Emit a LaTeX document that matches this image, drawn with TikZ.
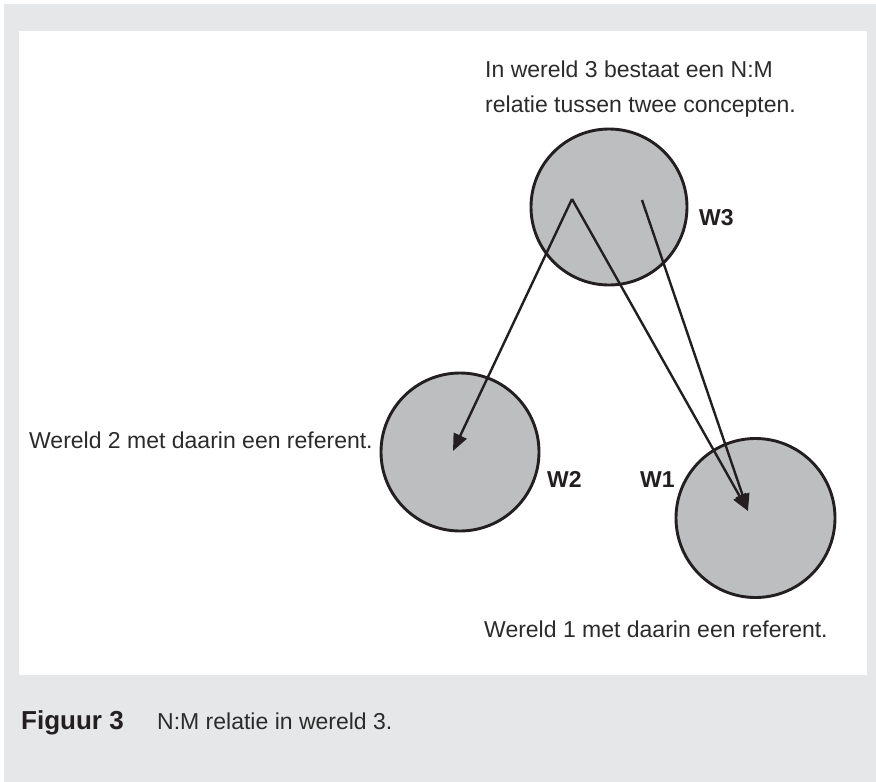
\documentclass[tikz,border=0pt]{standalone}
\usepackage{fontspec}
\setmainfont{Liberation Sans}
\usetikzlibrary{arrows.meta}
\definecolor{pagegray}{HTML}{E6E7E8}
\definecolor{worldfill}{HTML}{BCBEC0}
\definecolor{ink}{HTML}{231F20}
\definecolor{textink}{HTML}{2B2B2B}
\tikzset{
  world/.style={circle, draw=ink, fill=worldfill, line width=2.9pt, minimum size=#1, inner sep=0pt},
  relation/.style={draw=ink, line width=2.4pt, -{Triangle[length=17pt,width=14pt]}},
  plain/.style={anchor=base west, inner sep=0pt, text=textink, font=\fontsize{23}{27}\selectfont},
  tag/.style={anchor=base west, inner sep=0pt, text=ink, font=\fontsize{23}{27}\selectfont\bfseries},
  figtag/.style={anchor=base west, inner sep=0pt, text=ink, font=\fontsize{26}{30}\selectfont\bfseries},
}
\begin{document}
\begin{tikzpicture}[x=1pt, y=-1pt]
\useasboundingbox (0,0) rectangle (876,782);
% page and figure panel
\fill[pagegray] (4,4) rectangle (876,782);
\fill[white] (19,31) rectangle (867,675);

% worlds
\node[world=156pt] (w3) at (609,207) {};
\node[world=158pt] (w2) at (460,452) {};
\node[world=159pt] (w1) at (755.5,518) {};

% concepts in world 3 and referents in worlds 1 and 2
\coordinate (c1) at (572,199);
\coordinate (c2) at (642,200);
\coordinate (r2) at (453,451);
\coordinate (r1) at (748,511);

\draw[relation] (c1) -- (r2);
\draw[relation] (c1) -- (r1);
\draw[relation] (c2) -- (r1);

% labels
\node[plain] (t3a) at (485,77) {In wereld 3 bestaat een N:M};
\node[plain] (t3b) at (485,112) {relatie tussen twee concepten.};
\node[plain] (t2) at (29,448) {Wereld 2 met daarin een referent.};
\node[plain] (t1) at (484,637) {Wereld 1 met daarin een referent.};
\node[tag] (l3) at (699,225) {W3};
\node[tag] (l2) at (547,487) {W2};
\node[tag] (l1) at (640,487) {W1};

% caption
\node[figtag] (fig) at (21,729) {Figuur 3};
\node[plain] (cap) at (157,729) {N:M relatie in wereld 3.};
\end{tikzpicture}
\end{document}
